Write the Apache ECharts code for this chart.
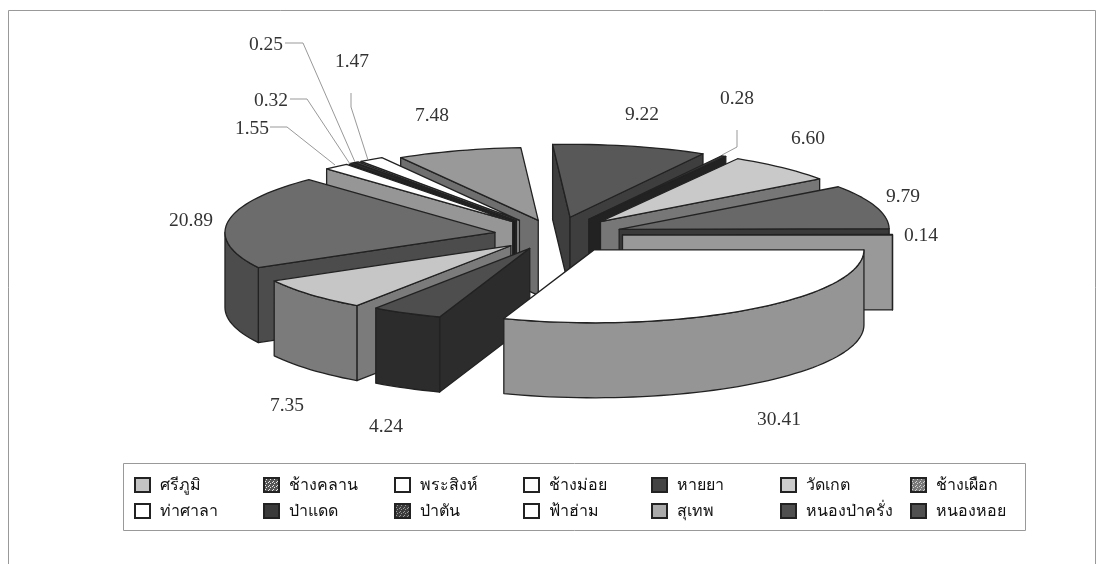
<!doctype html>
<html>
	<head>
		<meta charset="UTF-8">
		<title></title>
		<style>
			html, body { margin: 0; padding: 0; background: #fff; }
			#chart { width: 1097px; height: 564px; }
		</style>
	</head>
	<body>
		<div id="chart"></div>
		<script src="https://cdn.jsdelivr.net/npm/echarts@6/dist/echarts.min.js"></script>
		<script type="text/javascript">
			var categories = ['ศรีภูมิ', 'ช้างคลาน', 'พระสิงห์', 'ช้างม่อย', 'หายยา', 'วัดเกต', 'ช้างเผือก', 'ท่าศาลา', 'ป่าแดด', 'ป่าตัน', 'ฟ้าฮ่าม', 'สุเทพ', 'หนองป่าครั่ง', 'หนองหอย'];
			var values = [6.60, 9.79, 0.14, 30.41, 4.24, 7.35, 20.89, 1.55, 0.32, 0.25, 1.47, 7.48, 9.22, 0.28];

			// colours, same order as categories
			var topColors = ['#c9c9c9', '#686868', '#ffffff', '#ffffff', '#4e4e4e', '#c6c6c6', '#6c6c6c', '#ffffff', '#2e2e2e', '#555555', '#ffffff', '#999999', '#585858', '#383838'];
			var wallColors = ['#777777', '#3a3a3a', '#999999', '#959595', '#2c2c2c', '#7b7b7b', '#4c4c4c', '#969696', '#1c1c1c', '#333333', '#969696', '#6f6f6f', '#3e3e3e', '#222222'];
			var keyColors = ['#c4c4c4', '#6a6a6a', '#ffffff', '#ffffff', '#444444', '#cccccc', '#8f8f8f', '#ffffff', '#3a3a3a', '#666666', '#ffffff', '#aaaaaa', '#4f4f4f', '#505050'];

			// how far each slice is pulled out, as a share of the radius
			var explodes = [0.25, 0.25, 0.25, 0.25, 0.205, 0.22, 0.225, 0.24, 0.24, 0.24, 0.24, 0.21, 0.25, 0.25];

			// hand placed labels and leader lines in the original
			var labelPos = [[808, 139], [903, 197], [921, 236], [779, 420], [386, 427], [287, 406], [191, 221], [252, 129], [271, 101], [266, 45], [352, 62], [432, 116], [642, 115], [737, 99]];
			var leaders = {
				7: [[270, 127], [287, 127], [335, 165]],
				8: [[290, 99], [307, 99], [350, 164]],
				9: [[285, 43], [303, 43], [355, 162]],
				10: [[351, 93], [351, 107], [368, 160]],
				13: [[737, 130], [737, 147], [722, 155]]
			};

			// pie geometry
			var cx = 555, cy = 235, radius = 270, squash = 0.27, depth = 75, startAngle = 30.5;
			var total = values.reduce(function(a, b) { return a + b; }, 0);

			function rim(base, deg) {
				var r = deg * Math.PI / 180;
				return [base[0] + radius * Math.sin(r), base[1] - radius * squash * Math.cos(r)];
			}
			function down(p) {
				return [p[0], p[1] + depth];
			}

			var slices = [];
			var sum = 0;
			values.forEach(function(v, i) {
				var a0 = (startAngle + sum / total * 360) % 360;
				var a1 = a0 + v / total * 360;
				var mid = (a0 + a1) / 2 * Math.PI / 180;
				var apex = [
					cx + explodes[i] * radius * Math.sin(mid),
					cy - explodes[i] * radius * squash * Math.cos(mid)
				];
				var front = apex[1];
				for(var a = a0; a <= a1; a += 2) {
					front = Math.max(front, rim(apex, a)[1]);
				}
				front = Math.max(front, rim(apex, a1)[1]);
				slices.push({ a0: a0, a1: a1, apex: apex, front: front });
				sum += v;
			});

			// back to front
			var rank = slices.map(function(s, i) { return i; }).sort(function(a, b) {
				return slices[a].front - slices[b].front;
			});

			function arcPoints(apex, from, to) {
				var pts = [];
				var steps = Math.max(2, Math.ceil((to - from) / 2));
				for(var k = 0; k <= steps; k++) {
					pts.push(rim(apex, from + (to - from) * k / steps));
				}
				return pts;
			}

			function face(points, fill) {
				return {
					type: 'polygon',
					shape: { points: points },
					style: { fill: fill, stroke: '#222', lineWidth: 1.3, lineJoin: 'round' }
				};
			}

			function renderSlice(i) {
				var s = slices[i];
				var children = [];
				var r0 = s.a0 * Math.PI / 180, r1 = s.a1 * Math.PI / 180;
				if(Math.sin(r0) < 0) {
					var p0 = rim(s.apex, s.a0);
					children.push(face([s.apex, p0, down(p0), down(s.apex)], wallColors[i]));
				}
				if(Math.sin(r1) > 0) {
					var p1 = rim(s.apex, s.a1);
					children.push(face([s.apex, p1, down(p1), down(s.apex)], wallColors[i]));
				}
				var lo = Math.max(s.a0, 90), hi = Math.min(s.a1, 270);
				if(lo < hi) {
					var edge = arcPoints(s.apex, lo, hi);
					children.push(face(edge.concat(edge.map(down).reverse()), wallColors[i]));
				}
				children.push(face([s.apex].concat(arcPoints(s.apex, s.a0, s.a1)), topColors[i]));
				return { type: 'group', children: children };
			}

			// small speckled fill for the patterned legend keys
			function speckle(fg, bg) {
				var c = document.createElement('canvas');
				c.width = c.height = 4;
				var g = c.getContext('2d');
				g.fillStyle = bg;
				g.fillRect(0, 0, 4, 4);
				g.fillStyle = fg;
				g.fillRect(0, 0, 1, 1);
				g.fillRect(2, 1, 1, 1);
				g.fillRect(1, 3, 1, 1);
				return { image: c, repeat: 'repeat' };
			}
			var keyFill = keyColors.slice();
			keyFill[1] = speckle('#e8e8e8', '#555555');
			keyFill[6] = speckle('#d0d0d0', '#777777');
			keyFill[9] = speckle('#999999', '#3c3c3c');

			var series = categories.map(function(name, i) {
				return {
					type: 'custom',
					name: name,
					coordinateSystem: 'none',
					z: 2 + rank.indexOf(i),
					silent: true,
					animation: false,
					itemStyle: { color: keyColors[i] },
					data: [[values[i]]],
					renderItem: function() {
						return renderSlice(i);
					}
				};
			});

			// data labels and leader lines sit above the slices
			series.push({
				type: 'custom',
				coordinateSystem: 'none',
				z: 30,
				silent: true,
				animation: false,
				data: values.map(function(v, i) { return [i, v]; }),
				renderItem: function(params, api) {
					var i = api.value(0);
					var children = [{
						type: 'text',
						style: {
							text: api.value(1).toFixed(2),
							x: labelPos[i][0],
							y: labelPos[i][1],
							align: 'center',
							verticalAlign: 'middle',
							fill: '#333',
							font: '19.5px "Liberation Serif", serif'
						}
					}];
					if(leaders[i]) {
						children.push({
							type: 'polyline',
							shape: { points: leaders[i] },
							style: { fill: 'none', stroke: '#999', lineWidth: 1 }
						});
					}
					return { type: 'group', children: children };
				}
			});

			// seven columns of two rows
			var keyColumns = [134, 263, 394, 523, 651, 780, 910];
			var legends = keyColumns.map(function(x, c) {
				return {
					orient: 'vertical',
					left: x,
					top: 477,
					padding: 0,
					itemWidth: 15,
					itemHeight: 14,
					itemGap: 10,
					icon: 'rect',
					selectedMode: false,
					textStyle: {
						color: '#111',
						fontSize: 16,
						lineHeight: 14,
						fontFamily: '"Noto Sans", "DejaVu Sans", sans-serif',
						padding: [0, 0, 0, 5]
					},
					data: [c, c + 7].map(function(i) {
						return {
							name: categories[i],
							itemStyle: { color: keyFill[i], borderColor: '#222', borderWidth: 2 }
						};
					})
				};
			});

			var chart = echarts.init(document.getElementById('chart'), null, { renderer: 'canvas' });
			chart.setOption({
				backgroundColor: '#fff',
				animation: false,
				legend: legends,
				graphic: [
					{
						type: 'polyline',
						silent: true,
						shape: { points: [[8.5, 564], [8.5, 10.5], [1095.5, 10.5], [1095.5, 564]] },
						style: { fill: 'none', stroke: '#999', lineWidth: 1 }
					},
					{
						type: 'rect',
						silent: true,
						shape: { x: 123.5, y: 463.5, width: 902, height: 67 },
						style: { fill: '#fff', stroke: '#999', lineWidth: 1 }
					}
				],
				series: series
			});
		</script>
	</body>
</html>
